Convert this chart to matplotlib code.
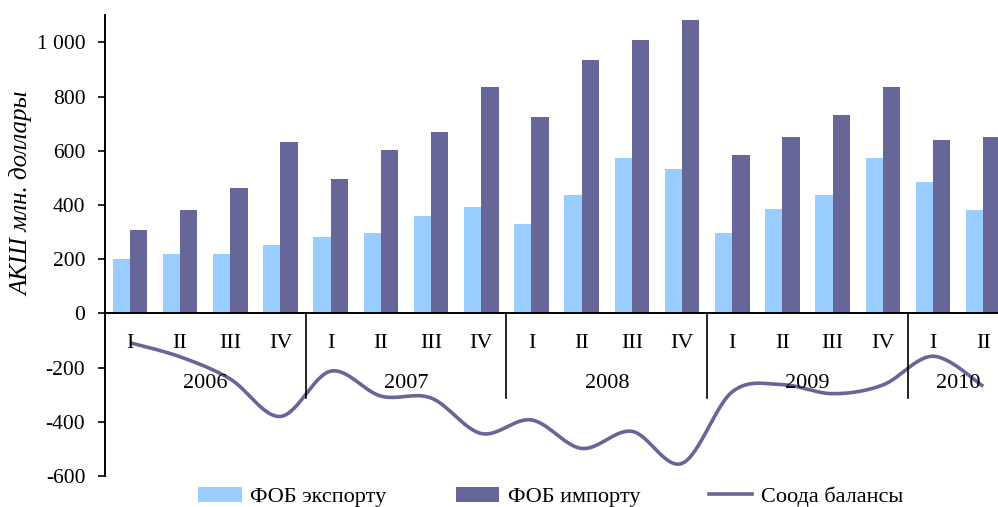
import numpy as np
import matplotlib
matplotlib.use("Agg")
from matplotlib import pyplot as plt
from matplotlib.patches import Patch
from matplotlib.lines import Line2D

plt.rcParams['font.family'] = ['Liberation Serif', 'DejaVu Serif']

# данные (млн. долл. США), по кварталам
quarters = ['I', 'II', 'III', 'IV'] * 4 + ['I', 'II']
years = ['2006', '2007', '2008', '2009', '2010']
year_sizes = [4, 4, 4, 4, 2]
export = [200, 220, 220, 254, 283, 296, 358, 393,
          331, 435, 572, 531, 296, 386, 435, 572, 483, 380]
imports = [308, 380, 462, 634, 496, 601, 670, 836,
           724, 933, 1007, 1084, 585, 649, 731, 836, 641, 649]
balance = [e - i for e, i in zip(export, imports)]

c_exp = '#99CCFF'
c_imp = '#666699'

fig = plt.figure(figsize=(9.98, 5.07), dpi=100)
ax = fig.add_axes([0.105, 0.061, 0.9054, 0.909])

x = np.arange(len(quarters))
w = 0.345
ax.bar(x - w / 2, export, w, color=c_exp, edgecolor='none', zorder=2)
ax.bar(x + w / 2, imports, w, color=c_imp, edgecolor='none', zorder=2)


# сглаженная линия (как в Excel: кривые Безье через точки)
def smooth(xs, ys, n=30):
    xs = np.asarray(xs, float)
    ys = np.asarray(ys, float)
    px = np.concatenate([[xs[0]], xs, [xs[-1]]])
    py = np.concatenate([[ys[0]], ys, [ys[-1]]])
    outx, outy = [], []
    t = np.linspace(0, 1, n)
    for k in range(1, len(px) - 2):
        p0 = np.array([px[k], py[k]])
        p3 = np.array([px[k + 1], py[k + 1]])
        c1 = p0 + (np.array([px[k + 1], py[k + 1]]) - np.array([px[k - 1], py[k - 1]])) / 6
        c2 = p3 - (np.array([px[k + 2], py[k + 2]]) - np.array([px[k], py[k]])) / 6
        b = ((1 - t) ** 3)[:, None] * p0 + (3 * (1 - t) ** 2 * t)[:, None] * c1 \
            + (3 * (1 - t) * t ** 2)[:, None] * c2 + (t ** 3)[:, None] * p3
        outx.extend(b[:, 0])
        outy.extend(b[:, 1])
    return outx, outy


sx, sy = smooth(x, balance)
ax.plot(sx, sy, color=c_imp, lw=2.6, zorder=3, solid_capstyle='butt')

ax.set_xlim(-0.5, 17.5)
ax.set_ylim(-600, 1100)
ax.set_yticks(range(-600, 1001, 200))
ax.set_yticklabels([f'{v:,}'.replace(',', ' ') for v in range(-600, 1001, 200)])
ax.tick_params(axis='y', direction='out', length=5, width=1.2, labelsize=15.5, pad=9)
ax.set_xticks([])

for s in ['top', 'right', 'bottom']:
    ax.spines[s].set_visible(False)
ax.spines['left'].set_linewidth(1.4)
ax.axhline(0, color='black', lw=1.4, zorder=4)

# подписи кварталов и годов
for k, q in enumerate(quarters):
    ax.text(k, -110, q, ha='center', va='center', fontsize=16)
start = 0
for yr, n in zip(years, year_sizes):
    ax.text(start + (n - 1) / 2, -260, yr, ha='center', va='center', fontsize=16)
    if start > 0:
        ax.plot([start - 0.5, start - 0.5], [0, -312], color='black', lw=1.2,
                clip_on=False, zorder=4)
    start += n

fig.text(0.022, 0.617, 'АКШ млн. доллары', rotation=90, ha='center', va='center',
         fontsize=18, style='italic')

handles = [Patch(facecolor=c_exp, edgecolor='none'),
           Patch(facecolor=c_imp, edgecolor='none'),
           Line2D([0], [0], color=c_imp, lw=2.6)]
labels = ['ФОБ экспорту', 'ФОБ импорту', 'Соода балансы']
fig.legend(handles, labels, loc='center', bbox_to_anchor=(0.552, 0.02), ncol=3,
           frameon=False, fontsize=16, handlelength=1.95, handleheight=0.68,
           handletextpad=0.4, columnspacing=3.1, borderpad=0, borderaxespad=0)

fig.savefig('out.png', dpi=100)
